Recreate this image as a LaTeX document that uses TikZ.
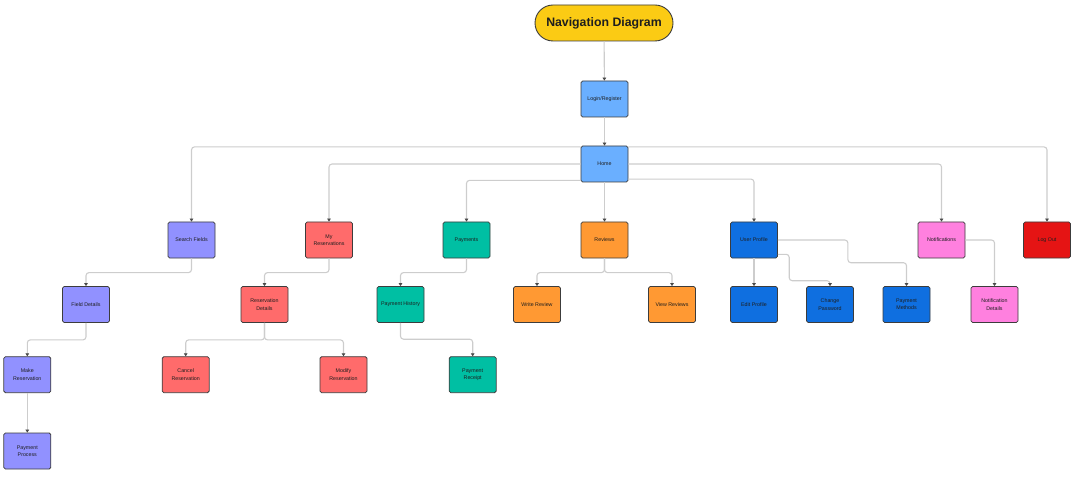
\documentclass[tikz,border=0pt]{standalone}
\usepackage{fontspec}
\setmainfont{Liberation Sans}
\usetikzlibrary{arrows.meta,calc}

\definecolor{ttlfill}{HTML}{FBCB14}
\definecolor{navblue}{HTML}{6AAFFF}
\definecolor{srchpurple}{HTML}{9191FF}
\definecolor{resred}{HTML}{FF6B6B}
\definecolor{payteal}{HTML}{00BFA3}
\definecolor{revorange}{HTML}{FF9933}
\definecolor{userblue}{HTML}{0F6FE0}
\definecolor{notifpink}{HTML}{FF80DF}
\definecolor{logoutred}{HTML}{E51414}
\definecolor{edgegray}{HTML}{CDCDCD}
\definecolor{tipgray}{HTML}{4A4A4A}
\definecolor{boxline}{HTML}{3C3C3C}
\definecolor{txt}{HTML}{1E1E1E}

\tikzset{
  screen/.style={rectangle, rounded corners=1.6pt, draw=boxline, line width=0.8pt,
    minimum width=47pt, minimum height=36pt, inner sep=1pt, align=center,
    text=txt, font=\fontsize{5.3}{7.3}\selectfont},
  titlebox/.style={rectangle, rounded corners=18pt, draw=boxline, line width=0.9pt,
    fill=ttlfill, minimum width=138pt, minimum height=36pt, text=txt,
    font=\fontsize{12.3}{14}\selectfont\bfseries},
  link/.style={draw=edgegray, line width=1.1pt, rounded corners=3pt,
    -{Triangle[length=3pt,width=3.6pt,color=tipgray]}},
}

\begin{document}
\begin{tikzpicture}[x=1pt,y=-1pt]
\useasboundingbox (0,0) rectangle (1075,478);

% title and entry screens
\node[titlebox] (title) at (604,23) {Navigation Diagram};
\node[screen, fill=navblue] (login) at (604.5,99) {Login/Register};
\node[screen, fill=navblue] (home) at (604.5,164) {Home};

% main sections
\node[screen, fill=srchpurple] (search) at (191.5,240) {Search Fields};
\node[screen, fill=resred] (myres) at (329,240) {My\\Reservations};
\node[screen, fill=payteal] (pay) at (466.5,240) {Payments};
\node[screen, fill=revorange] (rev) at (604.5,240) {Reviews};
\node[screen, fill=userblue] (user) at (754,240) {User Profile};
\node[screen, fill=notifpink] (notif) at (941.5,240) {Notifications};
\node[screen, fill=logoutred] (logout) at (1047,240) {Log Out};

% second level
\node[screen, fill=srchpurple] (field) at (86,304.5) {Field Details};
\node[screen, fill=resred] (resdet) at (264.5,304.5) {Reservation\\Details};
\node[screen, fill=payteal] (payhist) at (400.5,304.5) {Payment History};
\node[screen, fill=revorange] (write) at (537,304.5) {Write Review};
\node[screen, fill=revorange] (view) at (672,304.5) {View Reviews};
\node[screen, fill=userblue] (edit) at (754,304.5) {Edit Profile};
\node[screen, fill=userblue] (chpw) at (830,304.5) {Change\\Password};
\node[screen, fill=userblue] (paym) at (906.5,304.5) {Payment\\Methods};
\node[screen, fill=notifpink] (notifd) at (994.5,304.5) {Notification\\Details};

% third level
\node[screen, fill=srchpurple] (make) at (27.3,374.7) {Make\\Reservation};
\node[screen, fill=resred] (cancel) at (185.7,374.7) {Cancel\\Reservation};
\node[screen, fill=resred] (modify) at (343.5,374.7) {Modify\\Reservation};
\node[screen, fill=payteal] (receipt) at (472.7,374.7) {Payment\\Receipt};

% fourth level
\node[screen, fill=srchpurple] (process) at (27.3,451) {Payment\\Process};

% entry flow
\draw[link] (title) -- (login);
\draw[link] (login) -- (home);

% home to sections
\draw[link] ([yshift=-1.3pt]home.north west) -| (search.north);
\draw[link] (home.west) -| (myres.north);
\draw[link] ([yshift=2pt]home.south west) -| (pay.north);
\draw[link] (home) -- (rev);
\draw[link] ([yshift=3.3pt]home.south east) -| (user.north);
\draw[link] (home.east) -| (notif.north);
\draw[link] ([yshift=-1.3pt]home.north east) -| (logout.north);

% search branch
\draw[link] (search.south) -- ++(0,14.2) -| (field.north);
\draw[link] (field.south) -- ++(0,17) -| (make.north);
\draw[link] (make) -- (process);

% reservations branch
\draw[link] (myres.south) -- ++(0,14.2) -| (resdet.north);
\draw[link] (resdet.south) -- ++(0,17) -| (cancel.north);
\draw[link] (resdet.south) -- ++(0,17) -| (modify.north);

% payments branch
\draw[link] (pay.south) -- ++(0,14.2) -| (payhist.north);
\draw[link] (payhist.south) -- ++(0,16.3) -| (receipt.north);

% reviews branch
\draw[link] (rev.south) -- ++(0,14.2) -| (write.north);
\draw[link] (rev.south) -- ++(0,14.2) -| (view.north);

% profile branch
\draw[link] (user) -- (edit);
\draw[link] ([yshift=-14.3pt]user.east) -- ++(11.3,0) -- ++(0,26.4) -| (chpw.north);
\draw[link] (user.east) -- ++(70,0) -- ++(0,22.7) -| (paym.north);

% notifications branch
\draw[link] (notif.east) -| (notifd.north);
\end{tikzpicture}
\end{document}
